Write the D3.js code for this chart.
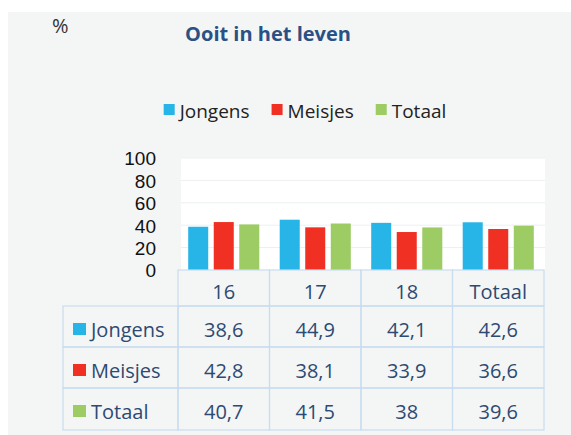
<!DOCTYPE html>
<html><head><meta charset="utf-8">
<script src="https://cdn.jsdelivr.net/npm/d3@7"></script>
<style>html,body{margin:0;padding:0;background:#fff;}svg{display:block;}</style>
</head><body>
<script>
const categories = ["16", "17", "18", "Totaal"];
const seriesNames = ["Jongens", "Meisjes", "Totaal"];
const jongens = [38.6, 44.9, 42.1, 42.6];
const meisjes = [42.8, 38.1, 33.9, 36.6];
const totaal = [40.7, 41.5, 38, 39.6];
const yTicks = [0, 20, 40, 60, 80, 100];
const colors = ["#27b4e6", "#ef3023", "#9ccc63"];
const series = [jongens, meisjes, totaal];
const fmt = v => String(v).replace(".", ",");

const W = 571, H = 435;
const font = "'Open Sans', sans-serif";
const svg = d3.select("body").append("svg").attr("width", W).attr("height", H);

svg.append("rect").attr("x", 8).attr("y", 12).attr("width", W - 8).attr("height", H - 12).attr("fill", "#f4f5f5");

svg.append("text").attr("x", 52).attr("y", 33).attr("font-family", font).attr("font-size", 20)
  .attr("fill", "#333").text("%");
svg.append("text").attr("x", 268).attr("y", 41).attr("text-anchor", "middle").attr("font-family", font)
  .attr("font-size", 20).attr("font-weight", "bold").attr("fill", "#2a5185").text("Ooit in het leven");

// legend
const leg = svg.append("g");
let lx = 0;
seriesNames.forEach((n, i) => {
  const g = leg.append("g").attr("transform", `translate(${lx},0)`);
  g.append("rect").attr("x", 0).attr("y", 104).attr("width", 11).attr("height", 11).attr("fill", colors[i]);
  const t = g.append("text").attr("x", 16).attr("y", 118).attr("font-family", font).attr("font-size", 19)
    .attr("fill", "#222").text(n);
  lx += 16 + t.node().getComputedTextLength() + 22;
});
const legW = lx - 22;
leg.attr("transform", `translate(${305 - legW / 2},0)`);

// scales
const x0 = d3.scaleBand().domain(categories).range([178, 544]);
const x1 = d3.scaleBand().domain(seriesNames).range([0, x0.bandwidth()]).paddingInner(0.216).paddingOuter(0.4);
const y = d3.scaleLinear().domain([0, 100]).range([270, 158]);

svg.append("rect").attr("x", 181).attr("y", y(100)).attr("width", 364).attr("height", y(0) - y(100)).attr("fill", "#fff");
svg.append("g").selectAll("line").data(yTicks.filter(d => d > 0)).join("line")
  .attr("x1", 181).attr("x2", 545).attr("y1", d => y(d)).attr("y2", d => y(d))
  .attr("stroke", "#eceff1").attr("stroke-width", 1);

const yAxis = svg.append("g").attr("transform", "translate(156,0)")
  .call(d3.axisLeft(y).tickValues(yTicks).tickSize(0).tickPadding(0));
yAxis.select(".domain").remove();
yAxis.selectAll("text").attr("font-family", "'Liberation Sans', Arial, sans-serif").attr("font-size", 19)
  .attr("fill", "#111").attr("dy", "0.36em");

const groups = svg.append("g").selectAll("g").data(categories).join("g")
  .attr("transform", d => `translate(${x0(d)},0)`);
groups.selectAll("rect").data((d, ci) => seriesNames.map((s, si) => ({ s, v: series[si][ci], c: colors[si] })))
  .join("rect")
  .attr("x", d => x1(d.s)).attr("width", x1.bandwidth())
  .attr("y", d => y(d.v)).attr("height", d => y(0) - y(d.v)).attr("fill", d => d.c);

// table
const border = "#c9dcf0";
const rowsY = [270, 306, 347, 388, 430];
const tf = 20;
const tcol = "#2d4a72";
const tbl = svg.append("g");
categories.forEach(c => {
  tbl.append("rect").attr("x", x0(c)).attr("y", rowsY[0]).attr("width", x0.bandwidth()).attr("height", rowsY[1] - rowsY[0])
    .attr("fill", "none").attr("stroke", border).attr("stroke-width", 1.2);
  tbl.append("text").attr("x", x0(c) + x0.bandwidth() / 2).attr("y", 299).attr("text-anchor", "middle")
    .attr("font-family", font).attr("font-size", tf).attr("fill", tcol).text(c);
});
seriesNames.forEach((s, si) => {
  const top = rowsY[si + 1], bot = rowsY[si + 2];
  tbl.append("rect").attr("x", 63).attr("y", top).attr("width", 178 - 63).attr("height", bot - top)
    .attr("fill", "none").attr("stroke", border).attr("stroke-width", 1.2);
  tbl.append("rect").attr("x", 73).attr("y", top + 17).attr("width", 13).attr("height", 12).attr("fill", colors[si]);
  tbl.append("text").attr("x", 91).attr("y", top + 31).attr("font-family", font).attr("font-size", tf)
    .attr("fill", tcol).text(s);
  categories.forEach((c, ci) => {
    tbl.append("rect").attr("x", x0(c)).attr("y", top).attr("width", x0.bandwidth()).attr("height", bot - top)
      .attr("fill", "none").attr("stroke", border).attr("stroke-width", 1.2);
    tbl.append("text").attr("x", x0(c) + x0.bandwidth() / 2).attr("y", top + 31).attr("text-anchor", "middle")
      .attr("font-family", font).attr("font-size", tf).attr("fill", tcol).text(fmt(series[si][ci]));
  });
});
</script>
</body></html>
